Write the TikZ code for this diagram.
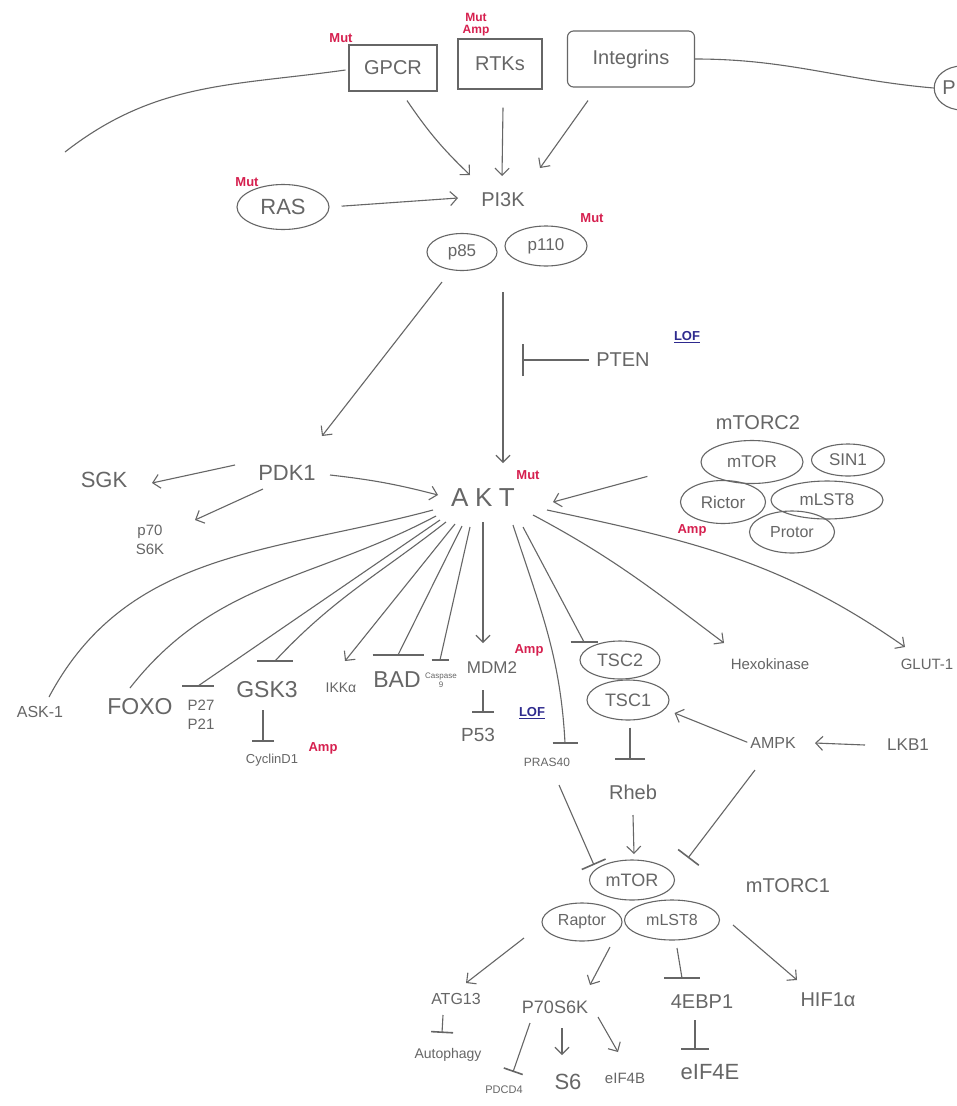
\documentclass[tikz,border=0pt]{standalone}
\usepackage{fontspec}
\setmainfont{Liberation Sans}
\usetikzlibrary{arrows.meta,shapes.geometric,decorations.markings}
\definecolor{ink}{HTML}{666666}
\definecolor{mutred}{HTML}{D6204F}
\definecolor{lofblue}{HTML}{2E2A8E}
\tikzset{
  every node/.style={text=ink, inner sep=1pt},
  fs/.style={font=\fontsize{#1}{#1}\selectfont},
  ln/.style={draw=ink, line width=1.1pt},
  act/.style={ln, -{Straight Barb[length=7pt,width=14pt,line width=1.1pt]}},
  inh/.style={ln, -{Bar[width=#1,line width=1.6pt]}},
  inhh/.style={ln, postaction={decorate, decoration={markings,
      mark=at position 1 with {\pgftransformresetnontranslations
        \draw[ink, line width=1.6pt] (-#1/2,0) -- (#1/2,0);}}}},
  ell/.style={ellipse, draw=ink, line width=1.1pt, inner sep=0pt},
  boxn/.style={rectangle, draw=ink, line width=1.1pt, fs=20},
  mut/.style={text=mutred, font=\bfseries\fontsize{13}{13}\selectfont},
  lof/.style={text=lofblue, font=\bfseries\fontsize{13}{13}\selectfont},
}
\begin{document}
\begin{tikzpicture}[x=1pt,y=-1pt]
\fill[white] (0,0) rectangle (957,1106);
\useasboundingbox (0,0) rectangle (957,1106);

% ---------- receptors ----------
\node[boxn, minimum width=88pt, minimum height=46pt] (gpcr) at (393,68) {GPCR};
\node[boxn, minimum width=84pt, minimum height=50pt] (rtks) at (500,64) {RTKs};
\node[boxn, rounded corners=6pt, minimum width=127pt, minimum height=56pt] (integ) at (631,59) {Integrins};
\node[mut] (mutg) at (341,38) {Mut};
\node[mut, align=center, font=\bfseries\fontsize{12}{12}\selectfont] (mutr) at (476,25) {Mut\\Amp};
\node[ell, fs=20, minimum width=52pt, minimum height=44pt] (pnode) at (962,88) {P\hspace*{26pt}};
\coordinate (lfree) at (65,152);
\draw[ln] (lfree) to[out=38,in=188] ([shift={(-3,2)}]gpcr.west);
\draw[ln] (integ.east) to[out=0,in=175] (pnode.west);

% ---------- PI3K ----------
\node[fs=20] (pi3k) at (503,200) {PI3K};
\draw[act] ([shift={(14,9)}]gpcr.south) to[bend right=6] ([shift={(-33,-25)}]pi3k.center);
\draw[act] ([shift={(3,18)}]rtks.south) -- ([shift={(-1,-24)}]pi3k.center);
\draw[act] ([shift={(-43,13)}]integ.south) -- ([shift={(37,-32)}]pi3k.center);
\node[ell, fs=22, minimum width=92pt, minimum height=45pt] (ras) at (283,207) {RAS};
\node[mut] (mutras) at (247,182) {Mut};
\draw[act, shorten <=12pt] (ras.east) -- ([shift={(-45,-2)}]pi3k.center);
\node[ell, fs=17, minimum width=70pt, minimum height=37pt] (p85) at (462,252) {p85};
\node[ell, fs=17, minimum width=82pt, minimum height=40pt] (p110) at (546,246) {p110};
\node[mut] (mutp110) at (592,218) {Mut};

% ---------- PTEN ----------
\node[fs=20] (pten) at (623,360) {PTEN};
\node[lof] (loft) at (687,337) {\underline{LOF}};
\coordinate (ptenT) at (522,360);
\draw[inh=32pt] ([shift={(-6,0)}]pten.west) -- (ptenT);

% ---------- mTORC2 ----------
\node[fs=20] (mtorc2) at (758,423) {mTORC2};
\node[ell, fs=17, minimum width=102pt, minimum height=43pt] (mtor2) at (752,462) {mTOR};
\node[ell, fs=17, minimum width=73pt, minimum height=32pt] (sin1) at (848,460) {SIN1};
\node[ell, fs=17, minimum width=85pt, minimum height=43pt] (rictor) at (723,502) {Rictor};
\node[ell, fs=17, minimum width=112pt, minimum height=38pt] (mlst82) at (827,500) {mLST8};
\node[ell, fs=16, minimum width=85pt, minimum height=42pt] (protor) at (792,532) {Protor};
\node[mut] (amprictor) at (692,530) {Amp};

% ---------- PDK1 / AKT ----------
\node[fs=22] (pdk1) at (287,473) {PDK1};
\node[fs=22] (sgk) at (104,480) {SGK};
\node[align=center, font=\fontsize{15}{19}\selectfont] (p70) at (150,540) {p70\\S6K};
\node[font={\fontsize{26}{26}\selectfont\addfontfeature{LetterSpace=25}}] (akt) at (483,498) {AKT};
\node[mut] (mutakt) at (528,475) {Mut};
\draw[act] ([shift={(-20,30)}]p85.center) -- ([shift={(35,-37)}]pdk1.center);
\draw[act] ([shift={(-43,46)}]p110.center) -- ([shift={(20,-35)}]akt.center);
\draw[act] ([shift={(-52,-8)}]pdk1.center) -- ([shift={(48,3)}]sgk.center);
\draw[act] ([shift={(-24,16)}]pdk1.center) -- ([shift={(45,-20)}]p70.center);
\draw[act] ([shift={(43,2)}]pdk1.center) to[bend left=4] ([shift={(-45,-3)}]akt.center);
\draw[act, shorten <=55pt] (mtor2.west) -- ([shift={(70,4)}]akt.center);

% ---------- AKT targets ----------
\node[fs=16] (ask) at (40,712) {ASK-1};
\node[fs=23] (foxo) at (140,707) {FOXO};
\node[align=center, font=\fontsize{15}{19}\selectfont] (p27) at (201,715) {P27\\P21};
\node[fs=23] (gsk3) at (267,690) {GSK3};
\node[fs=13] (cyc) at (272,760) {CyclinD1};
\node[mut] (ampcyc) at (323,748) {Amp};
\node[fs=14] (ikk) at (341,688) {IKKα};
\node[fs=23] (bad) at (397,680) {BAD};
\node[align=center, inner sep=0pt, font=\fontsize{8}{9}\selectfont] (casp) at (441,680) {Caspase\\9};
\node[fs=17] (mdm2) at (492,668) {MDM2};
\node[mut] (ampmdm2) at (529,650) {Amp};
\node[fs=19] (p53) at (478,735) {P53};
\node[lof] (lofp53) at (532,713) {\underline{LOF}};
\node[fs=12] (pras) at (547,762) {PRAS40};
\node[ell, fs=18, minimum width=80pt, minimum height=38pt] (tsc2) at (620,660) {TSC2};
\node[ell, fs=18, minimum width=82pt, minimum height=40pt] (tsc1) at (628,700) {TSC1};
\node[fs=15] (hexo) at (770,664) {Hexokinase};
\node[fs=15] (glut) at (927,664) {GLUT-1};

\draw[inhh=38] ([shift={(-50,12)}]akt.center) to[out=195,in=62] ([shift={(9,-15)}]ask.center);
\draw[inhh=47] ([shift={(-47,18)}]akt.center) to[out=208,in=52] ([shift={(-10,-19)}]foxo.center);
\draw[inhh=32] ([shift={(-43,22)}]akt.center) -- ([shift={(-3,-29)}]p27.center);
\draw[inhh=36] ([shift={(-37,24)}]akt.center) to[out=218,in=47] ([shift={(8,-29)}]gsk3.center);
\draw[inh=22pt] ([shift={(-4,20)}]gsk3.center) -- ([shift={(-9,-18)}]cyc.center);
\draw[act] ([shift={(-28,26)}]akt.center) -- ([shift={(4,-27)}]ikk.center);
\draw[inhh=51] ([shift={(-21,28)}]akt.center) -- ([shift={(1,-25)}]bad.center);
\draw[inhh=17] ([shift={(-13,29)}]akt.center) -- ([shift={(-1,-20)}]casp.center);
\draw[act] ([shift={(0,24)}]akt.center) -- ([shift={(-9,-25)}]mdm2.center);
\draw[inh=22pt] ([shift={(-9,22)}]mdm2.center) -- ([shift={(5,-22)}]p53.center);
\draw[inhh=25] ([shift={(30,27)}]akt.center) to[out=-72,in=93] ([shift={(18,-19)}]pras.center);
\draw[inhh=27] ([shift={(40,29)}]akt.center) -- ([shift={(-36,-18)}]tsc2.center);
\draw[act] ([shift={(50,17)}]akt.center) to[out=-28,in=143] ([shift={(-46,-21)}]hexo.center);
\draw[act] ([shift={(64,12)}]akt.center) to[out=-12,in=145] ([shift={(-22,-17)}]glut.center);

% ---------- AMPK / Rheb ----------
\node[fs=16] (ampk) at (773,743) {AMPK};
\node[fs=17] (lkb1) at (908,745) {LKB1};
\node[fs=20] (rheb) at (633,792) {Rheb};
\draw[act] ([shift={(-43,0)}]lkb1.center) -- ([shift={(42,0)}]ampk.center);
\draw[act, shorten <=2pt] (ampk.west) -- ([shift={(5,13)}]tsc1.east);
\draw[inh=30pt] ([shift={(2,7)}]tsc1.south) -- ([shift={(-3,-32)}]rheb.center);

% ---------- mTORC1 ----------
\node[ell, fs=18, minimum width=85pt, minimum height=40pt] (mtor1) at (632,880) {mTOR};
\node[ell, fs=16, minimum width=80pt, minimum height=38pt] (raptor) at (582,922) {Raptor};
\node[ell, fs=16, minimum width=95pt, minimum height=40pt] (mlst81) at (672,920) {mLST8};
\node[fs=20] (mtorc1) at (788,886) {mTORC1};
\draw[inh=26pt] ([shift={(12,23)}]pras.center) -- ([shift={(-38,-15)}]mtor1.center);
\draw[act] ([shift={(0,23)}]rheb.center) -- ([shift={(2,-26)}]mtor1.center);
\draw[inh=26pt] ([shift={(-18,27)}]ampk.center) -- ([shift={(56,-22)}]mtor1.center);

% ---------- mTORC1 targets ----------
\node[fs=16] (atg13) at (456,999) {ATG13};
\node[fs=14] (auto) at (448,1055) {Autophagy};
\node[fs=18] (p70s6k) at (555,1007) {P70S6K};
\node[fs=11] (pdcd4) at (504,1090) {PDCD4};
\node[fs=22] (s6) at (568,1082) {S6};
\node[fs=15] (eif4b) at (625,1078) {eIF4B};
\node[fs=20] (ebp) at (702,1002) {4EBP1};
\node[fs=22] (eif4e) at (710,1072) {eIF4E};
\node[fs=20] (hif) at (828,1000) {HIF1α};
\draw[act] ([shift={(-58,16)}]raptor.center) -- ([shift={(10,-16)}]atg13.center);
\draw[inh=22pt] ([shift={(-13,16)}]atg13.center) -- ([shift={(-6,-22)}]auto.center);
\draw[act] ([shift={(28,25)}]raptor.center) -- ([shift={(35,-22)}]p70s6k.center);
\draw[inh=20pt] ([shift={(-25,16)}]p70s6k.center) -- ([shift={(9,-18)}]pdcd4.center);
\draw[act] ([shift={(7,21)}]p70s6k.center) -- ([shift={(-6,-27)}]s6.center);
\draw[act] ([shift={(43,10)}]p70s6k.center) -- ([shift={(-7,-26)}]eif4b.center);
\draw[inhh=36] ([shift={(5,28)}]mlst81.center) -- ([shift={(-20,-24)}]ebp.center);
\draw[inh=28pt] ([shift={(-7,18)}]ebp.center) -- ([shift={(-15,-22)}]eif4e.center);
\draw[act] ([shift={(61,5)}]mlst81.center) -- ([shift={(-31,-20)}]hif.center);
\end{tikzpicture}
\end{document}
